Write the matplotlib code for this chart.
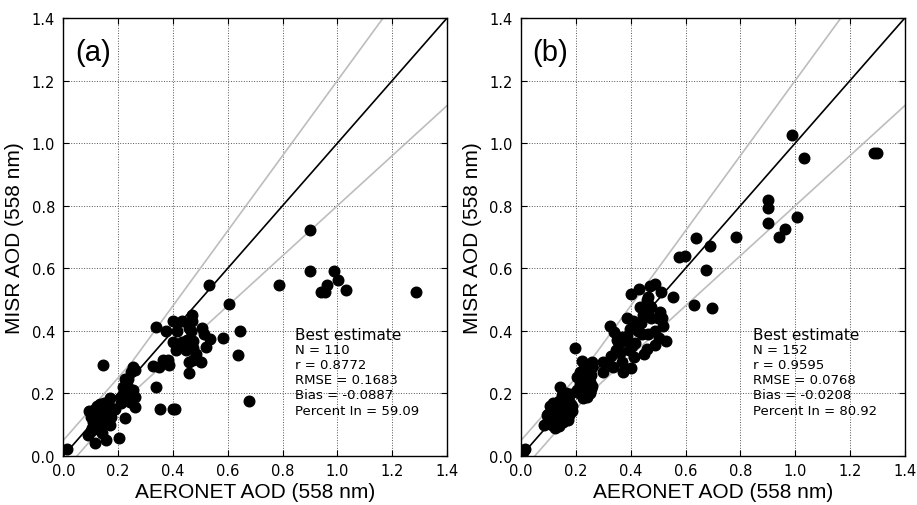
import matplotlib
matplotlib.use("Agg")
import matplotlib.pyplot as plt
import numpy as np

# panel (a) AERONET vs MISR AOD, best estimate
a_x = [0.012, 0.786, 0.901, 0.901, 0.986, 1.004, 0.962, 0.940, 0.955, 1.032,
       1.286, 0.530, 0.605, 0.645, 0.636, 0.677, 0.581, 0.339, 0.373, 0.400,
       0.432, 0.414, 0.469, 0.469, 0.460, 0.466, 0.506, 0.514, 0.535, 0.520,
       0.402, 0.412, 0.434, 0.451, 0.446, 0.474, 0.457, 0.472, 0.486, 0.457,
       0.474, 0.504, 0.460, 0.339, 0.353, 0.402, 0.409, 0.327, 0.348, 0.363,
       0.382, 0.387, 0.145, 0.254, 0.260, 0.248, 0.224, 0.236, 0.218, 0.212,
       0.254, 0.260, 0.242, 0.260, 0.224, 0.203, 0.155, 0.115, 0.169, 0.175,
       0.169, 0.188, 0.232, 0.210, 0.240, 0.090, 0.100, 0.095, 0.100, 0.105,
       0.110, 0.110, 0.115, 0.118, 0.120, 0.122, 0.125, 0.128, 0.130, 0.132,
       0.135, 0.138, 0.140, 0.142, 0.145, 0.148, 0.150, 0.152, 0.155, 0.158,
       0.160, 0.165, 0.168, 0.105, 0.125, 0.135, 0.112, 0.170, 0.145, 0.140]
a_y = [0.023, 0.548, 0.721, 0.590, 0.590, 0.564, 0.548, 0.524, 0.524, 0.532,
       0.524, 0.546, 0.487, 0.400, 0.324, 0.175, 0.378, 0.412, 0.400, 0.430,
       0.430, 0.400, 0.451, 0.430, 0.410, 0.400, 0.410, 0.389, 0.375, 0.348,
       0.364, 0.338, 0.364, 0.372, 0.338, 0.368, 0.348, 0.345, 0.325, 0.300,
       0.306, 0.300, 0.266, 0.221, 0.149, 0.149, 0.149, 0.287, 0.284, 0.306,
       0.306, 0.290, 0.290, 0.284, 0.276, 0.270, 0.247, 0.247, 0.221, 0.189,
       0.210, 0.189, 0.173, 0.157, 0.121, 0.058, 0.050, 0.043, 0.098, 0.125,
       0.186, 0.149, 0.228, 0.170, 0.200, 0.068, 0.080, 0.145, 0.125, 0.130,
       0.140, 0.110, 0.150, 0.120, 0.095, 0.160, 0.135, 0.110, 0.150, 0.125,
       0.165, 0.100, 0.140, 0.155, 0.120, 0.170, 0.145, 0.130, 0.160, 0.140,
       0.150, 0.135, 0.160, 0.090, 0.085, 0.115, 0.135, 0.150, 0.105, 0.075]

# panel (b)
b_x = [0.987, 1.033, 1.287, 1.299, 0.902, 0.902, 0.902, 1.005, 0.962, 0.942,
       0.784, 0.637, 0.691, 0.577, 0.598, 0.674, 0.631, 0.695, 0.553, 0.488,
       0.470, 0.509, 0.431, 0.402, 0.464, 0.458, 0.470, 0.507, 0.513, 0.434,
       0.446, 0.473, 0.455, 0.324, 0.339, 0.385, 0.385, 0.410, 0.397, 0.420,
       0.437, 0.443, 0.464, 0.519, 0.528, 0.503, 0.487, 0.450, 0.460, 0.403,
       0.395, 0.412, 0.400, 0.369, 0.360, 0.358, 0.371, 0.337, 0.315, 0.298,
       0.197, 0.221, 0.258, 0.260, 0.203, 0.345, 0.380, 0.415, 0.350, 0.425,
       0.475, 0.500, 0.490, 0.370, 0.330, 0.300, 0.215, 0.225, 0.230, 0.235,
       0.240, 0.245, 0.250, 0.255, 0.220, 0.210, 0.230, 0.240, 0.250, 0.225,
       0.260, 0.215, 0.235, 0.245, 0.205, 0.255, 0.228, 0.142, 0.179, 0.015,
       0.006, 0.010, 0.085, 0.095, 0.100, 0.105, 0.108, 0.110, 0.112, 0.115,
       0.118, 0.120, 0.122, 0.125, 0.128, 0.130, 0.132, 0.135, 0.138, 0.140,
       0.142, 0.145, 0.148, 0.150, 0.152, 0.155, 0.158, 0.160, 0.162, 0.165,
       0.168, 0.170, 0.172, 0.175, 0.178, 0.180, 0.115, 0.125, 0.135, 0.145,
       0.155, 0.160, 0.120, 0.130, 0.140, 0.150, 0.165, 0.105, 0.100, 0.185,
       0.170, 0.185]
b_y = [1.025, 0.951, 0.968, 0.970, 0.817, 0.794, 0.744, 0.763, 0.726, 0.701,
       0.701, 0.696, 0.672, 0.635, 0.640, 0.593, 0.482, 0.472, 0.509, 0.550,
       0.542, 0.525, 0.534, 0.517, 0.509, 0.500, 0.480, 0.461, 0.440, 0.475,
       0.450, 0.475, 0.460, 0.416, 0.395, 0.441, 0.384, 0.431, 0.405, 0.420,
       0.425, 0.390, 0.390, 0.414, 0.368, 0.377, 0.354, 0.325, 0.342, 0.352,
       0.340, 0.315, 0.280, 0.299, 0.330, 0.358, 0.267, 0.285, 0.301, 0.267,
       0.344, 0.304, 0.299, 0.285, 0.251, 0.340, 0.370, 0.360, 0.370, 0.400,
       0.440, 0.440, 0.400, 0.380, 0.320, 0.300, 0.270, 0.255, 0.240, 0.265,
       0.225, 0.250, 0.235, 0.260, 0.215, 0.200, 0.205, 0.190, 0.200, 0.185,
       0.225, 0.230, 0.215, 0.270, 0.210, 0.215, 0.280, 0.221, 0.198, 0.021,
       0.013, 0.018, 0.100, 0.130, 0.120, 0.110, 0.140, 0.125, 0.100, 0.150,
       0.115, 0.135, 0.105, 0.160, 0.125, 0.145, 0.110, 0.170, 0.135, 0.095,
       0.150, 0.125, 0.160, 0.140, 0.110, 0.175, 0.150, 0.130, 0.165, 0.120,
       0.145, 0.190, 0.155, 0.130, 0.170, 0.145, 0.170, 0.090, 0.120, 0.105,
       0.135, 0.185, 0.145, 0.165, 0.175, 0.195, 0.200, 0.160, 0.135, 0.160,
       0.115, 0.145]

panels = [
    ("(a)", a_x, a_y, ["N = 110", "r = 0.8772", "RMSE = 0.1683",
                       "Bias = -0.0887", "Percent In = 59.09"]),
    ("(b)", b_x, b_y, ["N = 152", "r = 0.9595", "RMSE = 0.0768",
                       "Bias = -0.0208", "Percent In = 80.92"]),
]

fig = plt.figure(figsize=(9.17, 5.06), dpi=100)
lefts = [0.0690, 0.5682]
ticks = np.arange(0, 1.41, 0.2)

# envelope: +/- max(0.05, 0.2*AOD)
xl = np.array([0.0, 0.25, 1.5])
env = np.maximum(0.05, 0.2 * xl)

for left, (tag, xs, ys, stats) in zip(lefts, panels):
    ax = fig.add_axes([left, 0.0968, 0.4185, 0.8656])
    ax.plot(xl, xl + env, color="#bdbdbd", lw=1.2, zorder=2)
    ax.plot(xl, xl - env, color="#bdbdbd", lw=1.2, zorder=2)
    ax.plot([0, 1.5], [0, 1.5], color="black", lw=1.2, zorder=2)
    ax.scatter(xs, ys, s=58, color="black", edgecolors="black", zorder=3)

    ax.set_xlim(0, 1.4)
    ax.set_ylim(0, 1.4)
    ax.set_xticks(ticks)
    ax.set_yticks(ticks)
    ax.set_xticklabels([f"{t:.1f}" for t in ticks])
    ax.set_yticklabels([f"{t:.1f}" for t in ticks])
    ax.grid(True, linestyle=":", color="#555555", lw=0.7)
    ax.tick_params(direction="in", top=True, right=True, length=4,
                   labelsize=10.5)
    ax.tick_params(axis="x", pad=5)
    ax.tick_params(axis="y", pad=6)
    for sp in ax.spines.values():
        sp.set_linewidth(1.0)

    ax.set_xlabel("AERONET AOD (558 nm)", fontsize=15,
                  family="Liberation Sans", labelpad=3)
    ax.set_ylabel("MISR AOD (558 nm)", fontsize=15,
                  family="Liberation Sans", labelpad=5)

    ax.text(0.03, 0.955, tag, transform=ax.transAxes, fontsize=21,
            family="Liberation Sans", va="top", ha="left")
    ax.text(0.845, 0.412, "Best estimate", fontsize=11, va="top", ha="left")
    ax.text(0.845, 0.362, "\n".join(stats), fontsize=9.5, va="top", ha="left",
            linespacing=1.22)

fig.savefig("out.png", dpi=100)
